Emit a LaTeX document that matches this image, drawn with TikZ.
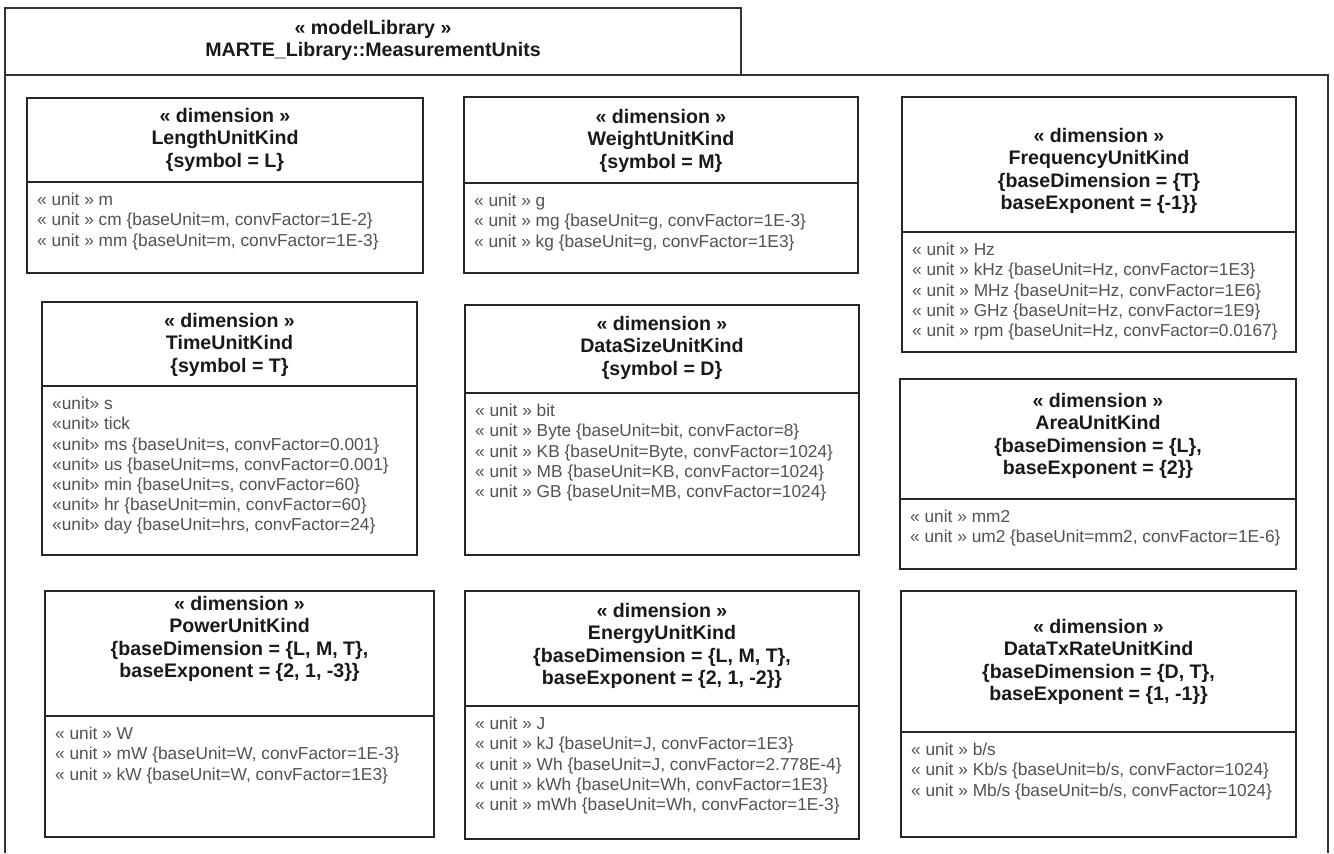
\documentclass[tikz,border=0pt]{standalone}
\usepackage{fontspec}
\setmainfont{Liberation Sans}
\tikzset{
  frameline/.style={draw=black!80, line width=1.3bp},
  boxline/.style={draw=black!85, line width=1.6bp},
  headtext/.style={font=\fontsize{19.6bp}{22.5bp}\selectfont\bfseries, text=black!90, align=center, inner sep=0pt, anchor=north, execute at begin node=\strut},
  bodytext/.style={font=\fontsize{17.3bp}{20.2bp}\selectfont, text=black!68, align=left, inner sep=0pt, anchor=north west, execute at begin node=\strut},
}
\newcommand\umlclass[9]{%
  \draw[boxline] (#2,#3) rectangle (#4,#5);
  \draw[boxline] (#2,#6) -- (#4,#6);
  \node[headtext] (#1-head) at ({(#2+#4)/2},#7) {#8};
  \node[bodytext] (#1-body) at ({#2+10},{#6+10.9}) {#9};
}
\begin{document}
\begin{tikzpicture}[x=1bp,y=-1bp]
\fill[white] (0,0) rectangle (1334,853);
\useasboundingbox (0,0) rectangle (1334,853);
% package frame
\draw[frameline] (5,75) -- (5,8) -- (741,8) -- (741,75);
\draw[frameline] (5,853) -- (5,75) -- (1328,75) -- (1328,853);
\node[headtext] (pkg-head) at (373,20) {« modelLibrary »\\MARTE\_Library::MeasurementUnits};

\umlclass{len}{27}{98}{423}{273}{182}{107.75}
  {« dimension »\\LengthUnitKind\\\{symbol = L\}}
  {« unit » m\\« unit » cm \{baseUnit=m, convFactor=1E-2\}\\« unit » mm \{baseUnit=m, convFactor=1E-3\}}

\umlclass{wgt}{464}{97}{858}{273}{183}{108.75}
  {« dimension »\\WeightUnitKind\\\{symbol = M\}}
  {« unit » g\\« unit » mg \{baseUnit=g, convFactor=1E-3\}\\« unit » kg \{baseUnit=g, convFactor=1E3\}}

\umlclass{frq}{902}{97}{1296}{352}{232}{127.75}
  {« dimension »\\FrequencyUnitKind\\\{baseDimension = \{T\}\\baseExponent = \{-1\}\}}
  {« unit » Hz\\« unit » kHz \{baseUnit=Hz, convFactor=1E3\}\\« unit » MHz \{baseUnit=Hz, convFactor=1E6\}\\« unit » GHz \{baseUnit=Hz, convFactor=1E9\}\\« unit » rpm \{baseUnit=Hz, convFactor=0.0167\}}

\umlclass{tim}{42}{302}{417}{555}{386}{312.75}
  {« dimension »\\TimeUnitKind\\\{symbol = T\}}
  {«unit» s\\«unit» tick\\«unit» ms \{baseUnit=s, convFactor=0.001\}\\«unit» us \{baseUnit=ms, convFactor=0.001\}\\«unit» min \{baseUnit=s, convFactor=60\}\\«unit» hr \{baseUnit=min, convFactor=60\}\\«unit» day \{baseUnit=hrs, convFactor=24\}}

\umlclass{dsz}{465}{305}{859}{555}{393}{315.75}
  {« dimension »\\DataSizeUnitKind\\\{symbol = D\}}
  {« unit » bit\\« unit » Byte \{baseUnit=bit, convFactor=8\}\\« unit » KB \{baseUnit=Byte, convFactor=1024\}\\« unit » MB \{baseUnit=KB, convFactor=1024\}\\« unit » GB \{baseUnit=MB, convFactor=1024\}}

\umlclass{are}{900}{379}{1296}{569}{499}{392.75}
  {« dimension »\\AreaUnitKind\\\{baseDimension = \{L\},\\baseExponent = \{2\}\}}
  {« unit » mm2\\« unit » um2 \{baseUnit=mm2, convFactor=1E-6\}}

\umlclass{pow}{45}{591}{434}{837}{716}{595.75}
  {« dimension »\\PowerUnitKind\\\{baseDimension = \{L, M, T\},\\baseExponent = \{2, 1, -3\}\}}
  {« unit » W\\« unit » mW \{baseUnit=W, convFactor=1E-3\}\\« unit » kW \{baseUnit=W, convFactor=1E3\}}

\umlclass{ene}{465}{591}{859}{839}{706}{602.75}
  {« dimension »\\EnergyUnitKind\\\{baseDimension = \{L, M, T\},\\baseExponent = \{2, 1, -2\}\}}
  {« unit » J\\« unit » kJ \{baseUnit=J, convFactor=1E3\}\\« unit » Wh \{baseUnit=J, convFactor=2.778E-4\}\\« unit » kWh \{baseUnit=Wh, convFactor=1E3\}\\« unit » mWh \{baseUnit=Wh, convFactor=1E-3\}}

\umlclass{dtx}{901}{591}{1296}{837}{732}{618.75}
  {« dimension »\\DataTxRateUnitKind\\\{baseDimension = \{D, T\},\\baseExponent = \{1, -1\}\}}
  {« unit » b/s\\« unit » Kb/s \{baseUnit=b/s, convFactor=1024\}\\« unit » Mb/s \{baseUnit=b/s, convFactor=1024\}}
\end{tikzpicture}
\end{document}
